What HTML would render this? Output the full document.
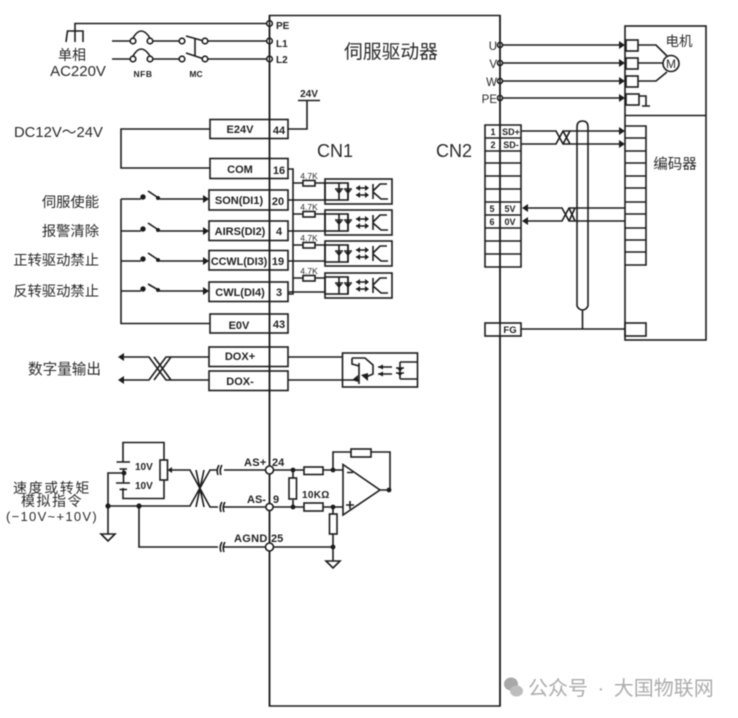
<!DOCTYPE html>
<html><head><meta charset="utf-8">
<style>
html,body{margin:0;padding:0;background:#fff;width:738px;height:718px;overflow:hidden}
svg{display:block;filter:blur(.4px)}
text{font-family:"Liberation Sans","Noto Sans CJK SC",sans-serif;fill:#2a2a2a}
.b{font-weight:bold;font-size:11px;fill:#222}
.s{font-weight:bold;font-size:10px;fill:#222}
.c{text-anchor:middle}
.l{stroke:#1c1c1c;stroke-width:1.6;fill:none}
.w{stroke:#1c1c1c;stroke-width:1.6;fill:#fff}
.f{fill:#1c1c1c;stroke:none}
</style></head><body>
<svg width="738" height="718" viewBox="0 0 738 718" xmlns="http://www.w3.org/2000/svg">
<defs>
<g id="opto">
  <g class="l">
  <rect x="0" y="0" width="67" height="25"/>
  <rect x="0" y="4" width="23" height="17"/>
  <path d="M14 4V21M23 4V21M10 10H18M19 10H27"/>
  <path d="M31 9H43M31 16H43"/>
  <path d="M48 5V20M48 12L55 5H62M48 13L56 20H63"/>
  </g>
  <path class="f" d="M10.500 11H17.500L14 15ZM19.500 11H26.500L23 15Z"/>
  <path class="f" d="M31 9l4-3v6zM31 16l4-3v6zM44 9l-4-3v6zM44 16l-4-3v6z"/>
</g>
<path id="arr" class="f" d="M0 0L-6 -4V4Z"/>
<g id="gnd"><path class="w" d="M-7 0H7L0 7Z"/></g>
<g id="brk"><path class="l" d="M-2 -5Q-5 0 -3 5M1 -5Q-2 0 0 5"/></g>
</defs>

<!-- main driver box -->
<path class="l" d="M269.500 15.500H500V706H269.500Z"/>

<!-- power -->
<path class="l" d="M75 42V23.500H269M66 42L67.500 31H83L83 42M75 31V42"/>
<path class="l" d="M112 41H130M153 41H180M208 41H269M112 59H130M153 59H180M208 59H269"/>
<path class="l" d="M133 38Q141 24 150 38M133 56Q141 42 150 56"/>
<path class="l" d="M186 36L204 41M186 53L204 59M195 39V56"/>
<g class="w"><circle cx="133" cy="41" r="2.800"/><circle cx="150" cy="41" r="2.800"/><circle cx="133" cy="59" r="2.800"/><circle cx="150" cy="59" r="2.800"/><circle cx="182" cy="41" r="2.800"/><circle cx="205" cy="41" r="2.800"/><circle cx="182" cy="59" r="2.800"/><circle cx="205" cy="59" r="2.800"/><circle cx="269.500" cy="23.500" r="2.800"/><circle cx="269.500" cy="41" r="2.800"/><circle cx="269.500" cy="59" r="2.800"/></g>
<text x="276" y="29" class="s">PE</text><text x="276" y="47" class="s">L1</text><text x="276" y="63" class="s">L2</text>
<text x="143" y="77" class="b c" style="font-size:8.500px;letter-spacing:.5px">NFB</text>
<text x="196" y="77" class="b c" style="font-size:8.500px">MC</text>
<text x="72" y="60" class="c" style="font-size:14px">单相</text>
<text x="78" y="76" class="c" style="font-size:15px">AC220V</text>
<text x="14" y="137" style="font-size:14.800px">DC12V～24V</text>
<text x="391" y="58" class="c" style="font-size:18.800px">伺服驱动器</text>
<text x="317" y="157" style="font-size:18px">CN1</text>
<text x="436" y="157" style="font-size:18px">CN2</text>

<!-- CN1 boxes -->
<g class="l">
<rect x="210" y="119.500" width="78" height="19"/><rect x="210" y="158.500" width="78" height="20"/>
<rect x="209" y="190" width="79" height="20"/><rect x="209" y="221" width="79" height="19.500"/>
<rect x="209" y="250.500" width="79" height="19.500"/><rect x="209" y="282" width="79" height="19.500"/>
<rect x="210" y="314" width="78" height="19"/>
<rect x="209" y="347" width="79" height="19.500"/><rect x="209" y="371" width="79" height="19.500"/>
</g>
<path class="l" d="M269.500 15.500V706"/>
<text x="240" y="133" class="b c">E24V</text><text x="279" y="134" class="b c">44</text>
<text x="240" y="173" class="b c">COM</text><text x="279" y="174" class="b c">16</text>
<text x="239" y="204" class="b c">SON(DI1)</text><text x="278" y="205" class="b c">20</text>
<text x="240" y="235" class="b c">AIRS(DI2)</text><text x="279" y="235" class="b c">4</text>
<text x="239" y="265" class="b c" style="font-size:10.800px">CCWL(DI3)</text><text x="278" y="265" class="b c">19</text>
<text x="240" y="296" class="b c">CWL(DI4)</text><text x="279" y="296" class="b c">3</text>
<text x="239" y="329" class="b c">E0V</text><text x="279" y="328" class="b c">43</text>
<text x="240" y="360" class="b c">DOX+</text><text x="240" y="385" class="b c">DOX-</text>

<path class="l" d="M210 129H121V168H210M288 129H307V100.500M298 100.500H320"/>
<text x="309" y="97" class="s c">24V</text>
<path class="l" d="M288 169H293V294H288M293 183H303M315 183H325M293 214H303M315 214H325M293 245H303M315 245H325M293 278H303M315 278H325"/>
<path class="l" d="M288 200H325M288 231H325M288 261H325M288 292H325"/>
<g class="w"><rect x="303" y="180.500" width="12" height="5.500"/><rect x="303" y="211.500" width="12" height="5.500"/><rect x="303" y="242.500" width="12" height="5.500"/><rect x="303" y="275.500" width="12" height="5.500"/></g>
<text x="309" y="179" class="c" style="font-size:8.500px">4.7K</text><text x="309" y="210" class="c" style="font-size:8.500px">4.7K</text><text x="309" y="241" class="c" style="font-size:8.500px">4.7K</text><text x="309" y="274" class="c" style="font-size:8.500px">4.7K</text>
<use href="#opto" x="325" y="179"/><use href="#opto" x="325" y="210"/><use href="#opto" x="325" y="241"/><use href="#opto" x="325" y="273"/>

<!-- inputs -->
<path class="l" d="M121 199V323.500H210M121 199H141M121 231H141M121 261H141M121 291H141"/>
<path class="l" d="M148 191L160 199H204M148 223L160 231H204M148 253L160 261H204M148 284L160 291H204"/>
<g class="f"><circle cx="143" cy="197" r="2.700"/><circle cx="143" cy="229" r="2.700"/><circle cx="143" cy="259" r="2.700"/><circle cx="143" cy="289" r="2.700"/><circle cx="158" cy="198" r="2"/><circle cx="158" cy="230" r="2"/><circle cx="158" cy="260" r="2"/><circle cx="158" cy="290" r="2"/></g>
<use href="#arr" x="209" y="199"/><use href="#arr" x="209" y="231"/><use href="#arr" x="209" y="261"/><use href="#arr" x="209" y="291"/>
<text x="99" y="207" text-anchor="end" style="font-size:14.300px">伺服使能</text>
<text x="99" y="236" text-anchor="end" style="font-size:14.300px">报警清除</text>
<text x="99" y="265" text-anchor="end" style="font-size:14.300px">正转驱动禁止</text>
<text x="99" y="296" text-anchor="end" style="font-size:14.300px">反转驱动禁止</text>
<text x="101" y="374" text-anchor="end" style="font-size:14.600px">数字量输出</text>

<!-- digital output -->
<path class="l" d="M124 357H149L166 380H209M124 380H149L166 357H209M288 357H342M288 380H342M154 357L171 380M154 380L171 357"/>
<path class="f" d="M118 357L124 353V361ZM118 380L124 376V384Z"/>
<rect class="l" x="342.500" y="353" width="75" height="34"/>
<path class="l" d="M352 358H365L373 365V374L366 377M352 358V364L359 366M359 363V384M342 380H359"/>
<path class="f" d="M352 380L358 375V382ZM361 375L368 373V381Z"/>
<path class="l" d="M378 367H392M378 374H392M400 362V379M400 362H417M400 379H417M396 368H404M396 373H404"/>
<path class="f" d="M378 367l5-2.500v5zM378 374l5-2.500v5zM397 368h6l-3 4zM397 373h6l-3 3z"/>

<!-- analog -->
<path class="l" d="M123 462V442.500H164V460M164 480V498.500H123V488"/>
<path class="l" d="M116.500 462H130M119.500 469H127M116 483H130M119.500 489.500H127M123.500 469V483M123.500 473H108V535"/>
<rect class="l" x="160" y="460" width="7.500" height="20"/>
<path class="f" d="M167.500 470L172 467V473Z"/>
<path class="l" d="M172 470H190L210 507H218M108 506H190L210 470H218M196 470L204 507M196 507L204 470"/>
<path class="l" d="M224 470H269M224 507H269M139 506V547H218M224 547H269"/>
<g class="f"><circle cx="124" cy="473" r="2.400"/><circle cx="108" cy="506" r="2.600"/><circle cx="139" cy="506" r="2.600"/></g>
<use href="#gnd" x="108" y="534"/>
<use href="#brk" x="221" y="470"/><use href="#brk" x="224" y="507"/><use href="#brk" x="224" y="547"/>
<text x="135" y="470" class="s">10V</text><text x="135" y="489" class="s">10V</text>
<text x="52" y="493" class="c" style="font-size:14px;letter-spacing:1.600px">速度或转矩</text>
<text x="52" y="506" class="c" style="font-size:14px;letter-spacing:1.500px">模拟指令</text>
<text x="52" y="521" class="c" style="font-size:13px;letter-spacing:1.300px">(−10V~+10V)</text>

<path class="l" d="M269 470H343M269 507H343M269 547H333V561M293 470V478M293 500V507M333 470V452H351M371 452H390V490H380M333 507V514M333 534V547"/>
<g class="w"><circle cx="269.500" cy="470" r="4"/><circle cx="269.500" cy="507" r="3.600"/><circle cx="269.500" cy="547" r="4"/>
<rect x="289" y="478" width="7.500" height="21"/><rect x="304" y="467" width="19" height="7.500"/><rect x="304" y="503" width="19" height="8"/><rect x="351" y="449" width="20" height="8"/><rect x="329.500" y="514" width="7.500" height="20"/>
<path d="M343 464.500L380 490L343 515Z"/></g>
<g class="f"><circle cx="293" cy="470" r="2.400"/><circle cx="293" cy="507" r="2.400"/><circle cx="333" cy="470" r="2.400"/><circle cx="333" cy="507" r="2.400"/><circle cx="333" cy="547" r="2.400"/><circle cx="389" cy="490" r="2.400"/></g>
<use href="#gnd" x="333" y="561"/>
<path class="l" d="M347 472.500H353M346 505H354M350 501V509"/>
<text x="244" y="466" class="b" style="letter-spacing:.3px">AS+</text><text x="272" y="466" class="b">24</text>
<text x="247" y="503" class="b">AS-</text><text x="273" y="503" class="b">9</text>
<text x="234" y="542" class="b" style="letter-spacing:.3px">AGND</text><text x="271" y="542" class="b">25</text>
<text x="302" y="498" class="s" style="letter-spacing:.3px">10KΩ</text>

<!-- motor side -->
<path class="l" d="M500 45H620M500 63H620M500 81H620M500 98H620"/>
<rect class="l" x="625" y="26" width="81" height="314"/>
<path class="l" d="M625 115.500H706"/>
<g class="w"><rect x="626" y="40" width="12" height="11"/><rect x="626" y="58" width="12" height="11"/><rect x="626" y="76" width="12" height="11"/><rect x="626" y="94" width="13" height="11"/>
<circle cx="500" cy="45" r="2.500"/><circle cx="500" cy="63" r="2.500"/><circle cx="500" cy="81" r="2.500"/><circle cx="500" cy="98" r="2.500"/></g>
<use href="#arr" x="625" y="45"/><use href="#arr" x="625" y="63"/><use href="#arr" x="625" y="81"/><use href="#arr" x="625" y="98"/>
<path class="l" d="M638 45H656L667 56M638 63H663M638 81H656L667 72M639 96H646V106M642 106H650"/>
<circle class="w" cx="671" cy="63.500" r="8"/>
<text x="671" y="68" class="c" style="font-size:12px">M</text>
<text x="679" y="46" class="c" style="font-size:13.500px">电机</text>
<text x="675" y="169" class="c" style="font-size:14.500px">编码器</text>
<text x="497" y="50" text-anchor="end" style="font-size:11.500px">U</text><text x="497" y="68" text-anchor="end" style="font-size:11.500px">V</text><text x="497" y="86" text-anchor="end" style="font-size:11.500px">W</text><text x="497" y="103" text-anchor="end" style="font-size:11.500px">PE</text>

<!-- CN2 table -->
<path class="l" d="M485 125H521V267H485ZM485 138H521M485 151H521M485 163H521M485 176H521M485 189H521M485 202H521M485 215H521M485 228H521M485 241H521M485 254H521"/>
<path class="l" d="M500 125V267"/>
<text x="493" y="135" class="b c" style="font-size:9px">1</text><text x="511" y="135" class="b c" style="font-size:9px">SD+</text>
<text x="493" y="148" class="b c" style="font-size:9px">2</text><text x="511" y="148" class="b c" style="font-size:9px">SD-</text>
<text x="492" y="212" class="b c" style="font-size:9px">5</text><text x="510" y="212" class="b c" style="font-size:9px">5V</text>
<text x="492" y="225" class="b c" style="font-size:9px">6</text><text x="510" y="225" class="b c" style="font-size:9px">0V</text>
<text x="510" y="333" class="b c" style="font-size:9.500px">FG</text>
<rect class="l" x="485" y="323" width="36" height="13"/>
<path class="l" d="M500 267V323M500 336V706"/>
<path class="l" d="M500 15.500V125"/>
<path class="l" d="M625 126H646V265H625M625 138H646M625 151H646M625 163H646M625 176H646M625 188H646M625 202H646M625 214H646M625 228H646M625 240H646M625 252H646"/>
<rect class="l" x="625" y="323" width="21" height="13"/>
<path class="l" d="M521 144H556L563 131H620M521 131H556L563 144H620M563 144H620M563 131L570 144M563 144L570 131"/>
<path class="l" d="M528 208H562L569 221H625M528 221H562L569 208H625M569 221L575 208M569 208L575 221"/>
<use href="#arr" x="625" y="131"/><use href="#arr" x="625" y="144"/>
<path class="f" d="M522 208L528 204V212ZM522 221L528 217V225Z"/>
<path class="l" d="M577 306V127Q577 121 582.500 121Q588 121 588 127V306Q586 310 582.500 310Q579 310 577 306ZM582.500 310V329M521 329H625"/>

<!-- watermark -->
<ellipse cx="511" cy="684" rx="7" ry="6.500" fill="#a8a8a8"/>
<ellipse cx="516.500" cy="691" rx="6.500" ry="5.500" fill="#bdbdbd"/>
<text x="528" y="695" style="font-size:20px;word-spacing:4px;fill:#acacac">公众号 · 大国物联网</text>
</svg>
</body></html>
